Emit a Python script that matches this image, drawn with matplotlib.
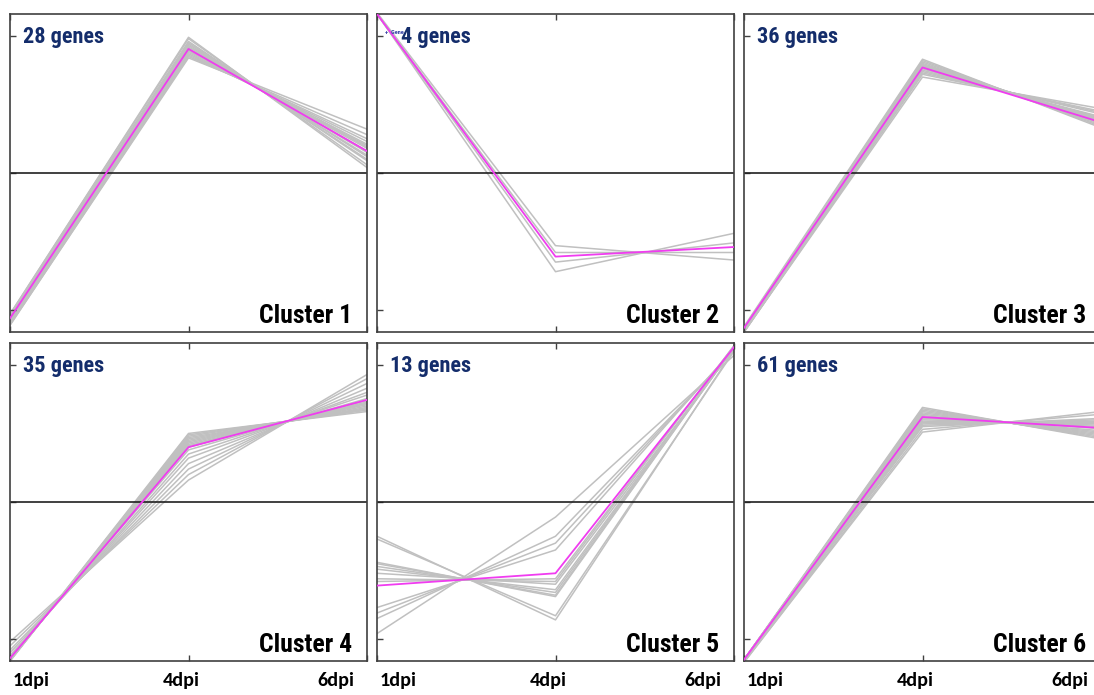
import matplotlib
matplotlib.use("Agg")
import matplotlib.pyplot as plt
from matplotlib.transforms import ScaledTranslation

# time points
time_labels = ["1dpi", "4dpi", "6dpi"]

# gene profiles (z-scores) per cluster, one list per time point
c1_d1 = [-1.03, -1.03, -1.04, -1.05, -1.05, -1.06, -1.06, -1.07, -1.07, -1.08, -1.08, -1.09, -1.09, -1.10, -1.11, -1.11]
c1_d4 = [0.99, 0.98, 0.96, 0.95, 0.94, 0.93, 0.92, 0.91, 0.90, 0.90, 0.89, 0.88, 0.87, 0.86, 0.85, 0.84]
c1_d6 = [0.04, 0.06, 0.09, 0.10, 0.12, 0.13, 0.15, 0.16, 0.18, 0.19, 0.20, 0.21, 0.23, 0.25, 0.28, 0.32]
c1_mean = [-1.06, 0.905, 0.16]

c2_d1 = [1.16, 1.17, 1.16, 1.16]
c2_d4 = [-0.72, -0.53, -0.58, -0.65]
c2_d6 = [-0.44, -0.635, -0.58, -0.51]
c2_mean = [1.16, -0.61, -0.54]

c3_d1 = [-1.12, -1.13, -1.13, -1.14, -1.14, -1.15, -1.14, -1.15, -1.15, -1.15, -1.14, -1.15, -1.16, -1.16, -1.16, -1.16]
c3_d4 = [0.83, 0.82, 0.81, 0.80, 0.79, 0.79, 0.78, 0.78, 0.77, 0.77, 0.76, 0.75, 0.74, 0.73, 0.72, 0.70]
c3_d6 = [0.33, 0.34, 0.35, 0.36, 0.37, 0.38, 0.38, 0.39, 0.39, 0.40, 0.40, 0.41, 0.43, 0.44, 0.45, 0.47]
c3_mean = [-1.13, 0.77, 0.37]

c4_d1 = [-1.16, -1.16, -1.16, -1.15, -1.15, -1.15, -1.15, -1.15, -1.14, -1.14, -1.14, -1.13, -1.13, -1.12, -1.10, -1.08, -1.05, -1.02]
c4_d4 = [0.50, 0.49, 0.48, 0.47, 0.46, 0.45, 0.44, 0.43, 0.42, 0.41, 0.40, 0.38, 0.35, 0.32, 0.28, 0.24, 0.20, 0.16]
c4_d6 = [0.66, 0.67, 0.68, 0.68, 0.69, 0.70, 0.71, 0.72, 0.72, 0.73, 0.74, 0.755, 0.78, 0.80, 0.83, 0.865, 0.90, 0.93]
c4_mean = [-1.14, 0.40, 0.745]

c5_d1 = [-0.25, -0.27, -0.44, -0.45, -0.47, -0.49, -0.52, -0.56, -0.58, -0.77, -0.81, -0.85, -0.96]
c5_d4 = [-0.86, -0.83, -0.69, -0.68, -0.66, -0.64, -0.60, -0.58, -0.56, -0.35, -0.30, -0.25, -0.11]
c5_d6 = [1.11, 1.10, 1.13, 1.13, 1.13, 1.13, 1.12, 1.14, 1.14, 1.12, 1.11, 1.10, 1.07]
c5_mean = [-0.61, -0.52, 1.13]

c6_d1 = [-1.15, -1.15, -1.15, -1.15, -1.15, -1.15, -1.15, -1.155, -1.16, -1.16, -1.16, -1.16, -1.16, -1.16, -1.16, -1.17, -1.17]
c6_d4 = [0.69, 0.68, 0.67, 0.66, 0.65, 0.64, 0.63, 0.62, 0.61, 0.60, 0.59, 0.58, 0.57, 0.56, 0.55, 0.53, 0.51]
c6_d6 = [0.46, 0.47, 0.48, 0.49, 0.50, 0.51, 0.52, 0.535, 0.55, 0.56, 0.57, 0.58, 0.59, 0.60, 0.61, 0.64, 0.66]
c6_mean = [-1.15, 0.62, 0.54]

gene_counts = [28, 4, 36, 35, 13, 61]
cluster_names = ["Cluster 1", "Cluster 2", "Cluster 3", "Cluster 4", "Cluster 5", "Cluster 6"]

clusters = [
    (c1_d1, c1_d4, c1_d6, c1_mean),
    (c2_d1, c2_d4, c2_d6, c2_mean),
    (c3_d1, c3_d4, c3_d6, c3_mean),
    (c4_d1, c4_d4, c4_d6, c4_mean),
    (c5_d1, c5_d4, c5_d6, c5_mean),
    (c6_d1, c6_d4, c6_d6, c6_mean),
]

LABEL_FONT = ["Roboto Condensed", "Liberation Sans", "DejaVu Sans"]
TICK_FONT = ["Carlito", "Liberation Sans", "DejaVu Sans"]
W, H = 1094, 695

fig = plt.figure(figsize=(W / 100, H / 100), dpi=100)

col_left = [10, 377, 744]
row_top = [14, 343]
ax_w, ax_h = 357, 318

x = [0, 1, 2]
for i, (d1, d4, d6, mean) in enumerate(clusters):
    r, c = divmod(i, 3)
    left = col_left[c] / W
    bottom = 1 - (row_top[r] + ax_h) / H
    ax = fig.add_axes([left, bottom, ax_w / W, ax_h / H])

    for a, b, e in zip(d1, d4, d6):
        ax.plot(x, [a, b, e], color="#c0c0c0", lw=1.1, zorder=1)
    ax.axhline(0, color="#202020", lw=1.2, zorder=2)
    ax.plot(x, mean, color="#f03cf0", lw=1.3, zorder=3)

    ax.set_xlim(0, 2)
    ax.set_ylim(-1.16, 1.16)
    ax.set_yticks([-1, 0, 1])
    ax.set_yticklabels([])
    ax.set_xticks(x)
    ax.tick_params(axis="both", direction="in", length=4, width=1, color="#404040")
    ax.tick_params(axis="x", top=True, pad=8)
    for sp in ax.spines.values():
        sp.set_color("#404040")
        sp.set_linewidth(1.2)

    if r == 1:
        ax.set_xticklabels(time_labels, fontsize=14.5, fontweight="bold", family=TICK_FONT)
        labels = ax.get_xticklabels()
        for lab, ha, dx in zip(labels, ["left", "center", "right"], [3, -7, -13]):
            lab.set_horizontalalignment(ha)
            lab.set_transform(lab.get_transform() + ScaledTranslation(dx / 100, 0, fig.dpi_scale_trans))
    else:
        ax.set_xticklabels([])

    ax.text(0.263, 0.962, f"{gene_counts[i]} genes", transform=ax.transAxes,
            ha="right", va="top", fontsize=16, fontweight="bold", color="#142d6b", family=LABEL_FONT)
    ax.text(0.958, 0.028, cluster_names[i], transform=ax.transAxes,
            ha="right", va="baseline", fontsize=18.5, fontweight="bold", color="black", family=LABEL_FONT)
    if i == 1:
        # small leftover legend text seen in the original panel
        ax.text(0.022, 0.942, "+  Gene", transform=ax.transAxes, ha="left", va="center",
                fontsize=4.5, fontweight="bold", color="#3a46a8", family=LABEL_FONT)

fig.savefig("out.png", dpi=100)
